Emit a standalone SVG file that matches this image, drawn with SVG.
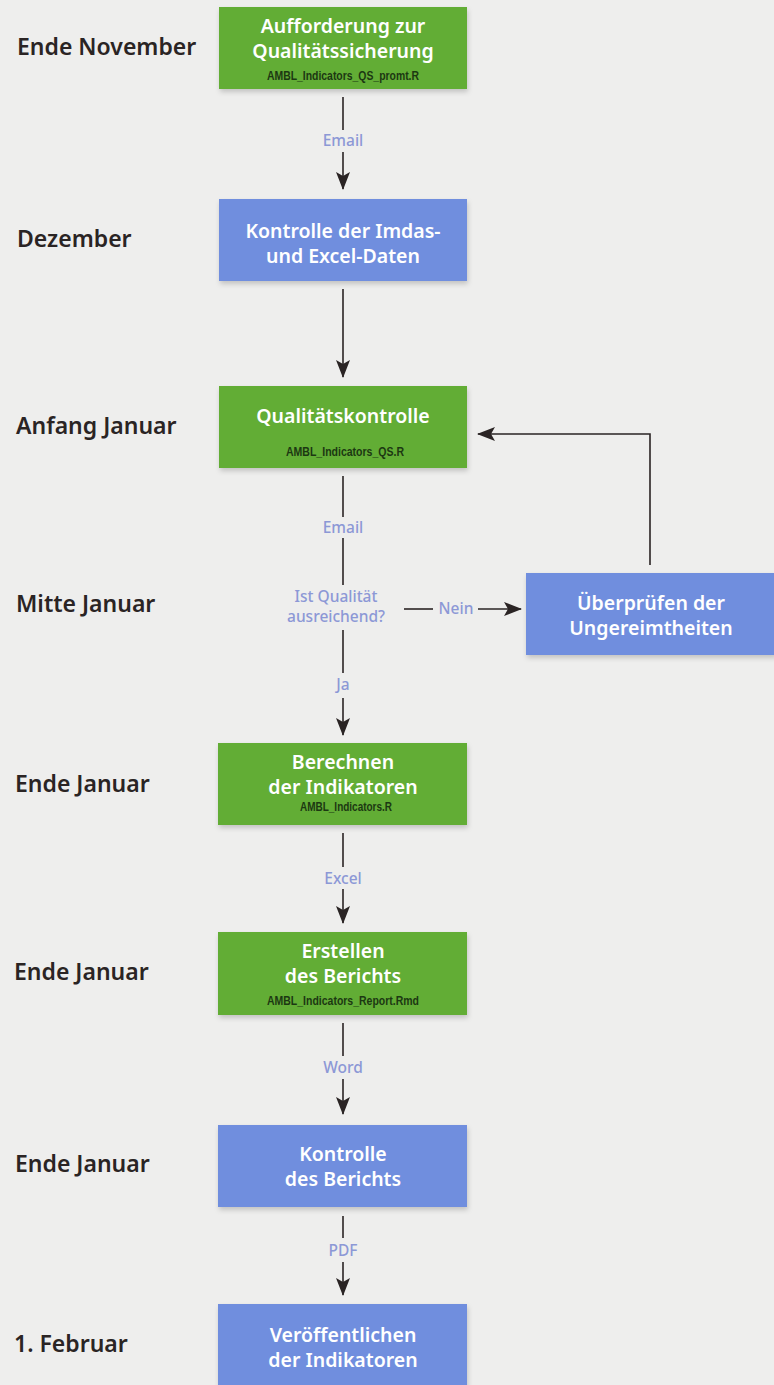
<svg xmlns="http://www.w3.org/2000/svg" width="774" height="1385" viewBox="0 0 774 1385">
<defs>
<style>
.bg{fill:#eeeeed}
.g{fill:#62ad36}
.b{fill:#6f8ede}
.bt{font-family:"Noto Sans",Lato,sans-serif;font-weight:600;font-size:19.5px;fill:#ffffff;text-anchor:middle}
.sc{font-family:"Liberation Sans",Arial,sans-serif;font-weight:700;font-size:12px;fill:#1c3812;text-anchor:middle}
.lt{font-family:"Noto Sans",Lato,sans-serif;font-weight:600;font-size:23px;fill:#2a2424}
.cl{font-family:"Noto Sans",Lato,sans-serif;font-weight:500;font-size:15.5px;fill:#8c98d6;text-anchor:middle}
.ln{stroke:#2a2424;stroke-width:1.6;fill:none}
</style>
<marker id="ah" viewBox="0 0 18 14" refX="17" refY="7" markerWidth="18" markerHeight="14" markerUnits="userSpaceOnUse" orient="auto">
<path d="M0,0 L18,7 L0,14 L4,7 Z" fill="#2a2424"/>
</marker>
<filter id="sh" x="-5%" y="-10%" width="110%" height="130%">
<feDropShadow dx="1" dy="3" stdDeviation="2.5" flood-color="#000" flood-opacity="0.18"/>
</filter>
</defs>
<rect class="bg" x="0" y="0" width="774" height="1385"/>

<g id="labels">
<text class="lt" x="17" y="55">Ende November</text>
<text class="lt" x="17" y="247">Dezember</text>
<text class="lt" x="16" y="434">Anfang Januar</text>
<text class="lt" x="16" y="612">Mitte Januar</text>
<text class="lt" x="15" y="792">Ende Januar</text>
<text class="lt" x="14" y="980">Ende Januar</text>
<text class="lt" x="15" y="1172">Ende Januar</text>
<text class="lt" x="14" y="1352">1. Februar</text>
</g>

<g id="connectors">
<line class="ln" x1="343" y1="97" x2="343" y2="130"/>
<text class="cl" x="343" y="146">Email</text>
<line class="ln" x1="343" y1="152" x2="343" y2="189" marker-end="url(#ah)"/>
<line class="ln" x1="343" y1="289" x2="343" y2="377" marker-end="url(#ah)"/>
<line class="ln" x1="343" y1="476" x2="343" y2="517"/>
<text class="cl" x="343" y="533">Email</text>
<line class="ln" x1="343" y1="538" x2="343" y2="585"/>
<text class="cl" x="336" y="602">Ist Qualität</text>
<text class="cl" x="336" y="622">ausreichend?</text>
<line class="ln" x1="404" y1="609" x2="433" y2="609"/>
<text class="cl" x="456" y="614">Nein</text>
<line class="ln" x1="478" y1="609" x2="521" y2="609" marker-end="url(#ah)"/>
<line class="ln" x1="343" y1="630" x2="343" y2="673"/>
<text class="cl" x="343" y="690">Ja</text>
<line class="ln" x1="343" y1="698" x2="343" y2="735" marker-end="url(#ah)"/>
<polyline class="ln" points="650,565 650,434 478,434" marker-end="url(#ah)"/>
<line class="ln" x1="343" y1="833" x2="343" y2="867"/>
<text class="cl" x="343" y="884">Excel</text>
<line class="ln" x1="343" y1="889" x2="343" y2="923" marker-end="url(#ah)"/>
<line class="ln" x1="343" y1="1023" x2="343" y2="1056"/>
<text class="cl" x="343" y="1073">Word</text>
<line class="ln" x1="343" y1="1079" x2="343" y2="1114" marker-end="url(#ah)"/>
<line class="ln" x1="343" y1="1216" x2="343" y2="1238"/>
<text class="cl" x="343" y="1256">PDF</text>
<line class="ln" x1="343" y1="1262" x2="343" y2="1295" marker-end="url(#ah)"/>
</g>

<g id="n1">
<rect class="g" x="219" y="7" width="248" height="82" filter="url(#sh)"/>
<text class="bt" x="343" y="33">Aufforderung zur</text>
<text class="bt" x="343" y="58">Qualitätssicherung</text>
<text class="sc" x="343" y="80" textLength="152" lengthAdjust="spacingAndGlyphs">AMBL_Indicators_QS_promt.R</text>
</g>
<g id="n2">
<rect class="b" x="219" y="199" width="248" height="82" filter="url(#sh)"/>
<text class="bt" x="343" y="238">Kontrolle der Imdas-</text>
<text class="bt" x="343" y="263">und Excel-Daten</text>
</g>
<g id="n3">
<rect class="g" x="219" y="386" width="248" height="82" filter="url(#sh)"/>
<text class="bt" x="343" y="423">Qualitätskontrolle</text>
<text class="sc" x="345" y="456" textLength="118" lengthAdjust="spacingAndGlyphs">AMBL_Indicators_QS.R</text>
</g>
<g id="n4">
<rect class="b" x="526" y="573" width="250" height="82" filter="url(#sh)"/>
<text class="bt" x="651" y="610">Überprüfen der</text>
<text class="bt" x="651" y="635">Ungereimtheiten</text>
</g>
<g id="n5">
<rect class="g" x="218" y="743" width="249" height="82" filter="url(#sh)"/>
<text class="bt" x="343" y="769">Berechnen</text>
<text class="bt" x="343" y="794">der Indikatoren</text>
<text class="sc" x="346" y="811" textLength="92" lengthAdjust="spacingAndGlyphs">AMBL_Indicators.R</text>
</g>
<g id="n6">
<rect class="g" x="218" y="932" width="249" height="83" filter="url(#sh)"/>
<text class="bt" x="343" y="958">Erstellen</text>
<text class="bt" x="343" y="983">des Berichts</text>
<text class="sc" x="343" y="1005" textLength="152" lengthAdjust="spacingAndGlyphs">AMBL_Indicators_Report.Rmd</text>
</g>
<g id="n7">
<rect class="b" x="218" y="1125" width="249" height="82" filter="url(#sh)"/>
<text class="bt" x="343" y="1161">Kontrolle</text>
<text class="bt" x="343" y="1186">des Berichts</text>
</g>
<g id="n8">
<rect class="b" x="218" y="1304" width="249" height="84" filter="url(#sh)"/>
<text class="bt" x="343" y="1342">Veröffentlichen</text>
<text class="bt" x="343" y="1367">der Indikatoren</text>
</g>
</svg>
